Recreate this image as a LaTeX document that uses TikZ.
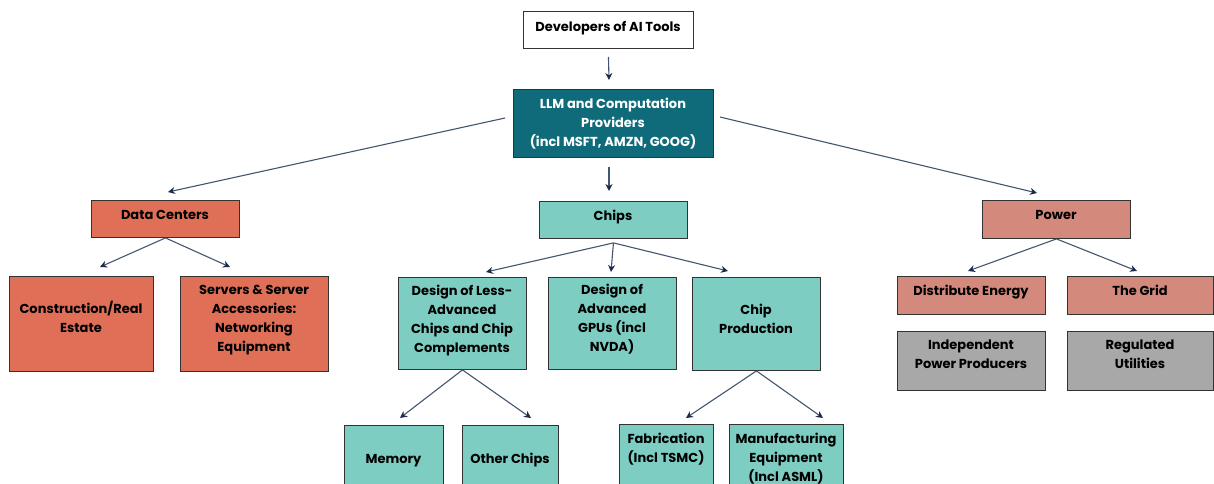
\documentclass[tikz,border=0pt]{standalone}
\usepackage{fontspec}
\setmainfont{Poppins}
\usetikzlibrary{arrows.meta}
\definecolor{topteal}{HTML}{0F6B7A}
\definecolor{dcred}{HTML}{E06F57}
\definecolor{chipteal}{HTML}{7ECDC3}
\definecolor{powrose}{HTML}{D3897C}
\definecolor{utilgray}{HTML}{A8A8A8}
\definecolor{linkc}{HTML}{44566E}
\definecolor{headc}{HTML}{1B2C4A}
\tikzset{
  box/.style={draw=black!80, line width=0.9pt, inner sep=0pt, anchor=north west},
  lbl/.style={align=center, inner sep=0pt,
    font=\fontsize{13}{19}\selectfont\bfseries},
  link/.style={draw=linkc, line width=1.1pt,
    -{Stealth[length=7pt,width=7pt,color=headc]}},
}
% box: name, x1, y1, x2, y2, fill/text options, text centre y, text
\newcommand{\boxat}[8]{%
  \node[box,#6,minimum width={#4-#2}, minimum height={#5-#3}] (#1) at (#2,#3) {};
  \node[lbl,#6] (#1-t) at ({(#2+#4)/2},#7) {\strut #8\strut};}
\begin{document}
\begin{tikzpicture}[x=1pt,y=-1pt]
\useasboundingbox (0,0) rectangle (1214,483);
\fill[white] (0,0) rectangle (1214,483);
% top level
\boxat{dev}{523}{11}{693}{48}{fill=white}{27.5}{Developers of AI Tools}
\boxat{llm}{513}{89}{713}{157}{fill=topteal,text=white}{123.5}{LLM and Computation\\Providers\\(incl MSFT, AMZN, GOOG)}
% second level
\boxat{dc}{91}{200}{239}{237}{fill=dcred}{215.5}{Data Centers}
\boxat{chips}{539}{201}{687}{238}{fill=chipteal}{216.5}{Chips}
\boxat{power}{982}{200}{1130}{238}{fill=powrose}{215.5}{Power}
% data centers
\boxat{cons}{9}{276}{153}{371}{fill=dcred}{319}{Construction/Real\\Estate}
\boxat{serv}{180}{276}{328}{371}{fill=dcred}{319}{Servers \& Server\\Accessories:\\Networking\\Equipment}
% chips
\boxat{less}{398}{277}{526}{369}{fill=chipteal}{320}{Design of Less-\\Advanced\\Chips and Chip\\Complements}
\boxat{gpu}{548}{277}{676}{369}{fill=chipteal}{319.5}{Design of\\Advanced\\GPUs (incl\\NVDA)}
\boxat{prod}{692}{277}{820}{370}{fill=chipteal}{320.5}{Chip\\Production}
\boxat{mem}{344}{425}{443}{494}{fill=chipteal}{459.5}{Memory}
\boxat{other}{462}{425}{558}{494}{fill=chipteal}{459.5}{Other Chips}
\boxat{fab}{619}{424}{713}{494}{fill=chipteal}{449}{Fabrication\\(Incl TSMC)}
\boxat{mfg}{729}{424}{843}{494}{fill=chipteal}{458.5}{Manufacturing\\Equipment\\(Incl ASML)}
% power
\boxat{dist}{897}{276}{1045}{314}{fill=powrose}{291.5}{Distribute Energy}
\boxat{grid}{1067}{276}{1213}{314}{fill=powrose}{291.5}{The Grid}
\boxat{ipp}{897}{331}{1045}{390}{fill=utilgray}{355.5}{Independent\\Power Producers}
\boxat{reg}{1067}{331}{1213}{390}{fill=utilgray}{355.5}{Regulated\\Utilities}
% connectors
\coordinate (devE) at (609,80);
\draw[link] ([yshift=-8pt]dev.south) -- (devE);
\coordinate (llmL) at (505,118);
\coordinate (llmR) at (720,117);
\coordinate (llmB) at (609,167);
\draw[link] (llmL) -- (168,192) coordinate (dcT);
\draw[link] (llmR) -- (1037,193) coordinate (powT);
\draw[link] (llmB) -- (609,191) coordinate (chT);
\draw[link] (dc.south) -- (100,267) coordinate (consT);
\draw[link] (dc.south) -- (230,267) coordinate (servT);
\draw[link] ([yshift=-4pt]chips.south) -- (486,272) coordinate (lessT);
\draw[link] ([yshift=-4pt]chips.south) -- (611,272) coordinate (gpuT);
\draw[link] ([yshift=-4pt]chips.south) -- (728,271) coordinate (prodT);
\draw[link] (less.south) -- (400,418) coordinate (memT);
\draw[link] (less.south) -- (531,418) coordinate (otherT);
\draw[link] (prod.south) -- (686,418) coordinate (fabT);
\draw[link] (prod.south) -- (823,418) coordinate (mfgT);
\draw[link] (power.south) -- (968,271) coordinate (distT);
\draw[link] (power.south) -- (1137,271) coordinate (gridT);
\end{tikzpicture}
\end{document}
